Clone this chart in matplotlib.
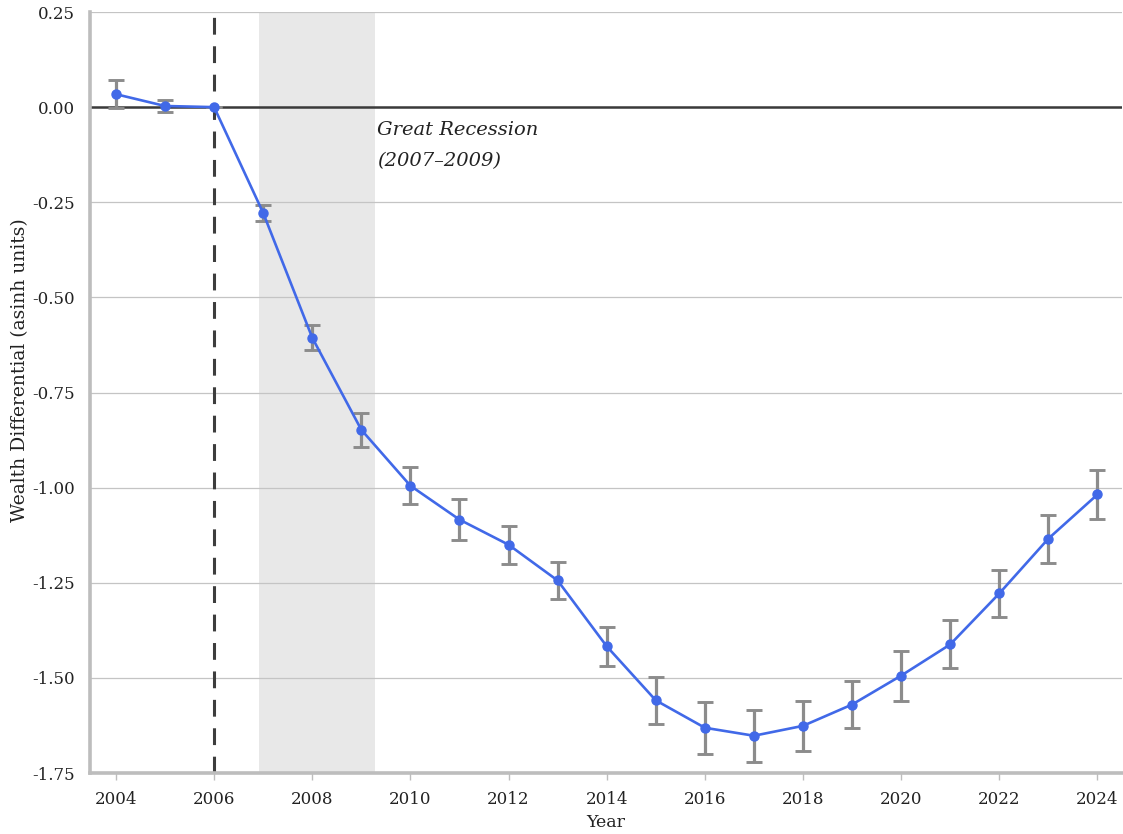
import matplotlib
matplotlib.use("Agg")
import matplotlib.pyplot as plt

# Estimated wealth differential by year with standard-error bars
years = [2004, 2005, 2006, 2007, 2008, 2009, 2010, 2011, 2012, 2013, 2014,
         2015, 2016, 2017, 2018, 2019, 2020, 2021, 2022, 2023, 2024]
estimate = [0.034, 0.003, 0.0, -0.278, -0.606, -0.848, -0.995, -1.084, -1.150,
            -1.244, -1.417, -1.559, -1.631, -1.652, -1.626, -1.570, -1.494,
            -1.412, -1.278, -1.134, -1.018]
err = [0.037, 0.017, 0.0, 0.021, 0.033, 0.044, 0.049, 0.053, 0.050, 0.049,
       0.051, 0.062, 0.068, 0.068, 0.066, 0.062, 0.066, 0.063, 0.062, 0.063,
       0.064]

yticks = [0.25, 0.0, -0.25, -0.5, -0.75, -1.0, -1.25, -1.5, -1.75]
ytick_labels = ["0.25", "0.00", "-0.25", "-0.50", "-0.75", "-1.00", "-1.25",
                "-1.50", "-1.75"]
xticks = [2004, 2006, 2008, 2010, 2012, 2014, 2016, 2018, 2020, 2022, 2024]

plt.rcParams['font.family'] = ['DejaVu Serif']

fig = plt.figure(figsize=(11.23, 8.34), dpi=100)
ax = fig.add_axes([0.0801, 0.0731, 0.919, 0.9125])

# Recession band and reference lines
ax.axvspan(2006.92, 2009.27, color="#e8e8e8", zorder=0, lw=0)
for y in yticks:
    ax.axhline(y, color="#c4c4c4", lw=0.9, zorder=1)
ax.axhline(0, color="#3a3a3a", lw=1.8, zorder=2)
ax.axvline(2006, color="#3d3d3d", lw=2.2, ls=(0, (5.5, 3.8)), zorder=2)

ax.errorbar(years, estimate, yerr=err, fmt="none", ecolor="#8c8c8c",
            elinewidth=2.3, capsize=5.5, capthick=2.1, zorder=3)
ax.plot(years, estimate, color="#4169e8", lw=1.9, marker="o", ms=6.5,
        zorder=4)

ax.text(2009.32, -0.037, "Great Recession\n(2007\u20132009)", style="italic",
        fontsize=14, va="top", ha="left", linespacing=1.95, color="#222222")

ax.set_xlim(2003.47, 2024.5)
ax.set_ylim(-1.75, 0.25)
ax.set_yticks(yticks)
ax.set_yticklabels(ytick_labels)
ax.set_xticks(xticks)

for s in ["top", "right"]:
    ax.spines[s].set_visible(False)
for s in ["left", "bottom"]:
    ax.spines[s].set_color("#bdbdbd")
    ax.spines[s].set_linewidth(2.6)

ax.tick_params(axis="y", length=0, pad=11, labelsize=12, colors="#222222")
ax.tick_params(axis="x", length=5, width=1, color="#bdbdbd", pad=8,
               labelsize=12, labelcolor="#222222")

ax.set_xlabel("Year", fontsize=12.5, labelpad=4, color="#222222")
fig.text(20 / 1123, 1 - 370 / 834, "Wealth Differential (asinh units)",
         rotation=90, ha="center", va="center", fontsize=13.5,
         color="#222222")

fig.savefig("out.png", dpi=100)
